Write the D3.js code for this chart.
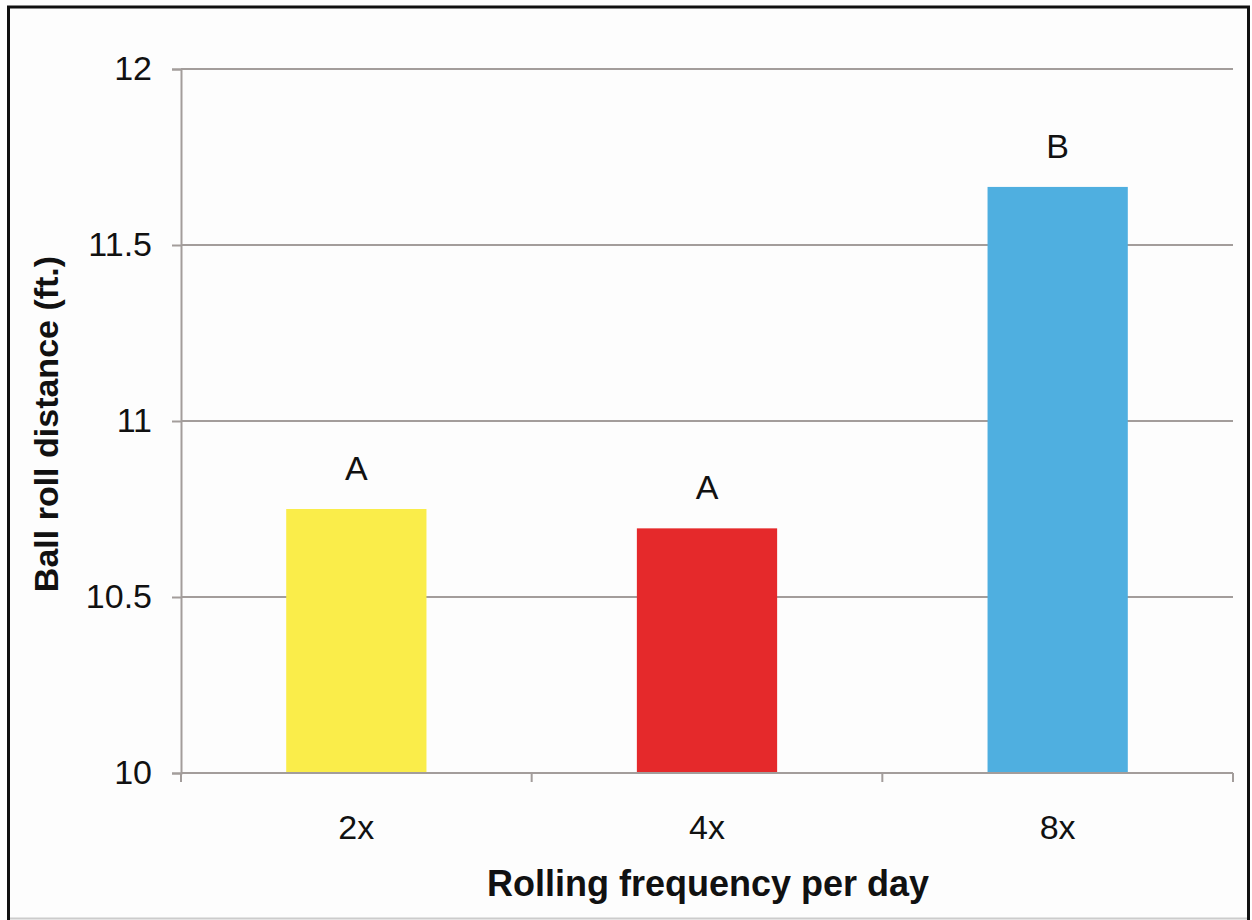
<!DOCTYPE html>
<html>
<head>
<meta charset="utf-8">
<script src="https://cdn.jsdelivr.net/npm/d3@7"></script>
<style>
  body { margin: 0; background: #fff; }
  svg { display: block; font-family: Arial, 'Liberation Sans', sans-serif; }
</style>
</head>
<body>
<svg id="chart" width="1252" height="920"></svg>
<script>
const categories = ['2x', '4x', '8x'];
const values = [10.75, 10.695, 11.665];
const letters = ['A', 'A', 'B'];
const barColors = ['#faed4a', '#e5292b', '#4fafe0'];
const yTicks = [10, 10.5, 11, 11.5, 12];

const svg = d3.select('#chart');
const margin = { left: 181, right: 19, top: 69, bottom: 147 };
const width = +svg.attr('width');
const height = +svg.attr('height');
const gridColor = '#a39d9b';

// outer frame
svg.append('rect')
  .attr('x', 8.5).attr('y', 7)
  .attr('width', 1240).attr('height', 930)
  .attr('fill', '#fdfdfd')
  .attr('stroke', '#111')
  .attr('stroke-width', 3);
svg.append('line')
  .attr('x1', 10).attr('x2', 1247)
  .attr('y1', 918.5).attr('y2', 918.5)
  .attr('stroke', '#ccc').attr('stroke-width', 2);

const x = d3.scaleBand()
  .domain(categories)
  .range([margin.left, width - margin.right])
  .paddingInner(0.6)
  .paddingOuter(0.3);

const y = d3.scaleLinear()
  .domain([10, 12])
  .range([height - margin.bottom, margin.top]);

// gridlines
svg.append('g')
  .selectAll('line')
  .data(yTicks.filter(d => d !== 10))
  .enter()
  .append('line')
  .attr('x1', margin.left)
  .attr('x2', width - margin.right)
  .attr('y1', d => y(d))
  .attr('y2', d => y(d))
  .attr('stroke', gridColor)
  .attr('stroke-width', 2);

// bars
svg.append('g')
  .selectAll('rect')
  .data(categories)
  .enter()
  .append('rect')
  .attr('x', d => x(d))
  .attr('width', x.bandwidth())
  .attr('y', (d, i) => y(values[i]))
  .attr('height', (d, i) => y(10) - y(values[i]))
  .attr('fill', (d, i) => barColors[i]);

// significance letters
svg.append('g')
  .selectAll('text')
  .data(categories)
  .enter()
  .append('text')
  .attr('x', d => x(d) + x.bandwidth() / 2)
  .attr('y', (d, i) => y(values[i]) - 29)
  .attr('text-anchor', 'middle')
  .style('font-size', '34px')
  .attr('fill', '#111')
  .text((d, i) => letters[i]);

// y axis
const yAxis = svg.append('g')
  .attr('transform', `translate(${margin.left},0)`)
  .call(d3.axisLeft(y).tickValues(yTicks).tickSize(9).tickPadding(20)
    .tickFormat(d3.format('~g')));
yAxis.select('.domain').attr('stroke', gridColor).attr('stroke-width', 2);
yAxis.selectAll('.tick line').attr('stroke', gridColor).attr('stroke-width', 2);
yAxis.selectAll('text').style('font-size', '34px').attr('fill', '#111');

// x axis with ticks on category boundaries
const xAxis = svg.append('g')
  .attr('transform', `translate(0,${y(10)})`);
xAxis.append('line')
  .attr('x1', margin.left).attr('x2', width - margin.right)
  .attr('stroke', gridColor).attr('stroke-width', 2);
const step = x.step();
const bounds = d3.range(categories.length + 1).map(i => margin.left + i * step);
xAxis.selectAll('.bound')
  .data(bounds)
  .enter()
  .append('line')
  .attr('x1', d => d).attr('x2', d => d)
  .attr('y1', 0).attr('y2', 9)
  .attr('stroke', gridColor).attr('stroke-width', 2);
xAxis.selectAll('.lbl')
  .data(categories)
  .enter()
  .append('text')
  .attr('x', d => x(d) + x.bandwidth() / 2)
  .attr('y', 66)
  .attr('text-anchor', 'middle')
  .style('font-size', '34px')
  .attr('fill', '#111')
  .text(d => d);

// axis titles
svg.append('text')
  .attr('x', 708)
  .attr('y', 896)
  .attr('text-anchor', 'middle')
  .style('font-size', '36px')
  .style('font-weight', 'bold')
  .attr('fill', '#111')
  .text('Rolling frequency per day');

svg.append('text')
  .attr('transform', 'translate(58,424) rotate(-90)')
  .attr('text-anchor', 'middle')
  .style('font-size', '34px')
  .style('font-weight', 'bold')
  .attr('fill', '#111')
  .text('Ball roll distance (ft.)');
</script>
</body>
</html>
